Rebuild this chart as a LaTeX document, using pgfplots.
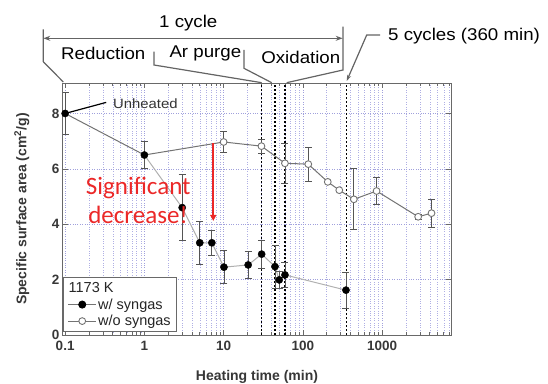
\documentclass[border=0pt]{standalone}
\usepackage{fontspec}
\setmainfont{Liberation Sans}
\newfontfamily\annfont[FakeStretch=1.1]{Liberation Sans}
\newfontfamily\calib{Carlito}
\usepackage{pgfplots}
\pgfplotsset{compat=1.18}
\usetikzlibrary{arrows.meta}
\definecolor{gridcol}{RGB}{160,160,220}
\definecolor{mgridcol}{RGB}{175,175,228}
\definecolor{axisgray}{RGB}{105,105,105}
\definecolor{txtgray}{RGB}{55,55,55}
\definecolor{lightline}{RGB}{175,175,175}
\definecolor{darkline}{RGB}{115,115,115}
\definecolor{errgray}{RGB}{85,85,85}
\definecolor{redtxt}{RGB}{235,40,40}
\definecolor{anncol}{RGB}{100,100,100}
\pgfplotsset{errb/.style={error bars/.cd, y dir=both, y explicit,
  error bar style={errgray, line width=0.8pt},
  error mark options={rotate=90, errgray, mark size=3.5pt, line width=0.8pt}}}
\begin{document}
\begin{tikzpicture}
\useasboundingbox (0,0) rectangle (548pt,383pt);
\begin{axis}[
  at={(63pt,48pt)}, anchor=south west,
  scale only axis, width=388pt, height=252pt,
  xmode=log, log ticks with fixed point,
  xmin=0.094, xmax=7400, ymin=0, ymax=9.1,
  ytick={0,2,4,6,8},
  xmajorgrids=true, xminorgrids=true, ymajorgrids=true,
  major grid style={gridcol, dotted, line width=0.6pt},
  minor grid style={mgridcol, dotted, line width=0.5pt},
  axis line style={axisgray, line width=1pt},
  every tick/.style={axisgray, line width=0.7pt},
  major tick length=5pt, minor tick length=3pt,
  /pgf/number format/assume math mode=true,
  /pgf/number format/1000 sep={},
  tick label style={font=\fontsize{13.5}{14}\selectfont\bfseries, text=txtgray},
  xticklabel style={yshift=-3pt},
  xlabel={Heating time (min)},
  ylabel={Specific surface area (cm\textsuperscript{2}/g)},
  label style={font=\fontsize{14}{15}\selectfont\bfseries, text=txtgray},
  xlabel style={at={(axis description cs:0.5,-0.168)}, anchor=center},
  ylabel style={at={(axis description cs:-0.106,0.5)}, anchor=center},
  legend style={at={(axis description cs:0.001,0.012)}, anchor=south west,
    draw=axisgray, line width=0.8pt,
    nodes={font=\fontsize{14.5}{15}\selectfont, text=black!85, inner sep=1.5pt},
    inner xsep=4pt, inner ysep=3pt, row sep=1.5pt},
  legend cell align=left,
]
% vertical dashed markers (30, 45, 60 min and 5 cycles)
\addplot[black, line width=1.8pt, dash pattern=on 2pt off 2pt, forget plot] coordinates {(30,0) (30,9.1)};
\addplot[black, line width=1.8pt, dash pattern=on 2pt off 2pt, forget plot] coordinates {(45,0) (45,9.1)};
\addplot[black, line width=1.8pt, dash pattern=on 2pt off 2pt, forget plot] coordinates {(60,0) (60,9.1)};
\addplot[black, line width=1.8pt, dash pattern=on 2pt off 2pt, forget plot] coordinates {(355,0) (355,9.1)};
% lines
\addplot[lightline, line width=1pt, no marks, forget plot] coordinates {
(1,6.5) (3,4.6) (5,3.33) (7.1,3.33) (10.1,2.45) (20.4,2.53) (30.2,2.92) (44.5,2.47) (50.3,1.99) (59.4,2.17) (350,1.62)};
\addplot[darkline, line width=1pt, no marks, forget plot] coordinates {
(0.1,8.0) (1,6.5) (10,6.97) (30,6.82) (59.4,6.2) (117,6.17) (206,5.53) (288,5.23) (440,4.9) (851,5.2) (2850,4.27) (4200,4.4)};
% w/o syngas markers
\addplot[forget plot, only marks, mark=*, mark size=3.4pt, mark options={fill=white, draw=darkline, line width=0.9pt}, errb]
table[x=x, y=y, y error=e] {
x y e
10 6.97 0.38
30 6.82 0.25
59.4 6.2 0.72
117 6.17 0.62
206 5.53 0
288 5.23 0
440 4.9 1.1
851 5.2 0.5
2850 4.27 0.08
4200 4.4 0.5
};
% w/ syngas markers (incl. unheated)
\addplot[forget plot, only marks, mark=*, mark size=3.6pt, mark options={fill=black, draw=black}, errb]
table[x=x, y=y, y error=e] {
x y e
0.1 8.0 0.75
1 6.5 0.5
3 4.6 1.2
5 3.33 0.78
7.1 3.33 0.45
10.1 2.45 0.6
20.4 2.53 0.5
30.2 2.92 0.5
44.5 2.47 0.78
50.3 1.99 0.3
59.4 2.17 0.45
350 1.62 0.65
};
% legend
\addlegendimage{legend image code/.code={\node[overlay, anchor=west, inner sep=0pt, font=\fontsize{14.5}{15}\selectfont, text=black!85] at (0pt,0pt) {1173 K};}}
\addlegendentry{\strut}
\addlegendimage{legend image code/.code={\draw[darkline, line width=0.9pt] (0pt,0pt) -- (28pt,0pt); \fill[black] (14pt,0pt) circle (3.6pt);}}
\addlegendentry{w/ syngas}
\addlegendimage{legend image code/.code={\draw[darkline, line width=0.9pt] (0pt,0pt) -- (10.5pt,0pt); \draw[darkline, line width=0.9pt] (17.5pt,0pt) -- (28pt,0pt); \draw[darkline, fill=white, line width=0.9pt] (14pt,0pt) circle (3.4pt);}}
\addlegendentry{w/o syngas}
% red arrow
\draw[redtxt, line width=1.6pt, -{Triangle[length=6pt,width=6pt]}] (axis cs:7.4,6.92) -- (axis cs:7.4,4.12);
% unheated pointer
\draw[black, line width=1.2pt] (axis cs:0.1,8.0) -- (axis cs:0.33,8.4);
\end{axis}
% texts in picture coordinates
\node[anchor=base west, inner sep=0pt, font=\annfont\fontsize{13.5}{14}\selectfont, text=black!80] at (113pt,274.7pt) {Unheated};
\node[anchor=base, inner sep=0pt, font=\calib\fontsize{25}{26}\selectfont, text=redtxt] at (138.3pt,188pt) {Significant};
\node[anchor=base, inner sep=0pt, font=\calib\fontsize{25}{26}\selectfont, text=redtxt] at (138pt,159.7pt) {decrease!};
% top annotations
\begin{scope}[anncol, line width=1.2pt]
\draw[{Stealth[length=7pt,width=5pt]}-{Stealth[length=7pt,width=5pt]}] (43.3pt,344.7pt) -- (342.7pt,344.7pt);
\draw (43.3pt,353.7pt) -- (43.3pt,321.3pt) -- (63.3pt,301pt);
\draw (343pt,356.3pt) -- (343pt,313pt) -- (286.7pt,300.3pt);
\draw (154pt,331.3pt) -- (154pt,318pt) -- (261.7pt,300.3pt);
\draw (244pt,333pt) -- (244pt,314.7pt) -- (271.7pt,300.3pt);
\draw[-{Stealth[length=6pt,width=4pt]}] (380pt,348pt) -- (366.7pt,348pt) -- (346.7pt,302pt);
\end{scope}
\begin{scope}[every node/.style={inner sep=0pt, font=\annfont\fontsize{17}{18}\selectfont, text=black}]
\node[anchor=base] at (188.3pt,355pt) {1 cycle};
\node[anchor=base] at (103.3pt,323.7pt) {Reduction};
\node[anchor=base west] at (169.3pt,325.7pt) {Ar purge};
\node[anchor=base] at (300.8pt,319pt) {Oxidation};
\node[anchor=base west] at (388pt,342pt) {5 cycles (360 min)};
\end{scope}
\end{tikzpicture}
\end{document}
